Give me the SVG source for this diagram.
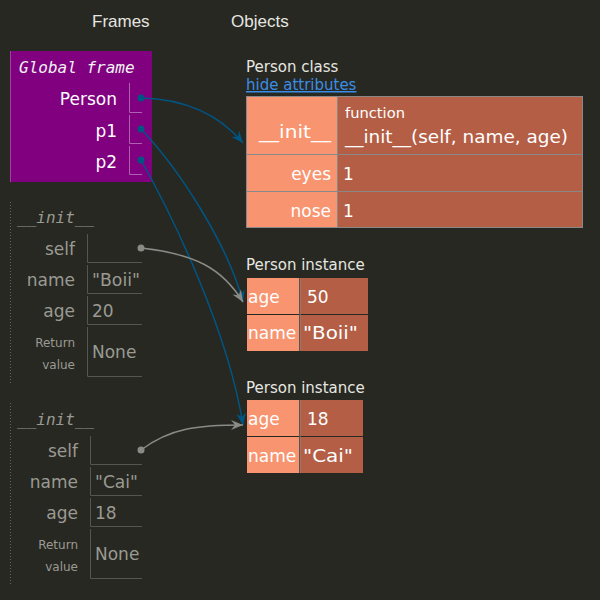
<svg xmlns="http://www.w3.org/2000/svg" width="600" height="600" viewBox="0 0 600 600">
<style>
.hdr{font-family:"Liberation Sans",Arial,sans-serif;font-size:17px;fill:#e6e6e0}
.sans{font-family:"DejaVu Sans",Verdana,sans-serif}
.ftitle{font-family:"DejaVu Sans Mono",monospace;font-style:italic;font-size:16px}
.lbl{font-family:"DejaVu Sans",Verdana,sans-serif;font-size:17px;text-anchor:end}
.val{font-family:"DejaVu Sans",Verdana,sans-serif;font-size:17px}
.small{font-family:"DejaVu Sans",Verdana,sans-serif;font-size:12px;text-anchor:end}
.otitle{font-family:"DejaVu Sans",Verdana,sans-serif;font-size:15px;fill:#e6e6e0}
.w{fill:#ffffff}
.g{fill:#9a9a92}
.gline{stroke:#55554f;stroke-width:1;fill:none}
.pline{stroke:#b060b0;stroke-width:1;fill:none}
.key{fill:#f8946f}
.vcell{fill:#b35e45}
.blue{stroke:#005583;stroke-width:1.5;fill:none}
.grey{stroke:#8a8a86;stroke-width:1.5;fill:none}
</style>
<defs>
<marker id="ab" markerUnits="userSpaceOnUse" markerWidth="13" markerHeight="11" refX="12" refY="5" orient="auto" viewBox="0 0 13 11">
<path d="M0,0 L12,5 L0,10 L4,5 Z" fill="#005583"/>
</marker>
<marker id="ag" markerUnits="userSpaceOnUse" markerWidth="13" markerHeight="11" refX="12" refY="5" orient="auto" viewBox="0 0 13 11">
<path d="M0,0 L12,5 L0,10 L4,5 Z" fill="#8a8a86"/>
</marker>
</defs>
<rect width="600" height="600" fill="#272822"/>
<text class="hdr" x="92" y="27">Frames</text>
<text class="hdr" x="231" y="27">Objects</text>

<g id="global-frame">
<rect x="10" y="51" width="142" height="131" fill="#800080"/>
<line x1="10.5" y1="51" x2="10.5" y2="182" stroke="#a040a0" stroke-width="1"/>
<text class="ftitle" x="19" y="73" fill="#f2f2f2">Global frame</text>
<text class="lbl w" x="117" y="105">Person</text>
<path class="pline" d="M129.5,83 V112.5 H142"/>
<circle cx="141" cy="98" r="3.5" fill="#005583"/>
<text class="lbl w" x="117" y="137">p1</text>
<path class="pline" d="M129.5,115 V143.5 H142"/>
<circle cx="141" cy="129" r="3.5" fill="#005583"/>
<text class="lbl w" x="117" y="168">p2</text>
<path class="pline" d="M129.5,146 V174.5 H142"/>
<circle cx="141" cy="160" r="3.5" fill="#005583"/>
</g>

<g id="init-frame-1">
<line x1="10.5" y1="202" x2="10.5" y2="383" stroke="#66665f" stroke-width="1" stroke-dasharray="1,2"/>
<text class="ftitle g" x="17" y="223">__init__</text>
<text class="lbl g" x="75" y="255">self</text>
<path class="gline" d="M87.5,234 V262.5 H142"/>
<circle cx="141" cy="248" r="3.5" fill="#8a8a86"/>
<text class="lbl g" x="75" y="286">name</text>
<path class="gline" d="M87.5,265 V293.5 H142"/>
<text class="val g" x="92" y="286" textLength="48" lengthAdjust="spacingAndGlyphs">"Boii"</text>
<text class="lbl g" x="75" y="317">age</text>
<path class="gline" d="M87.5,296 V324.5 H142"/>
<text class="val g" x="92" y="317">20</text>
<text class="small g" x="75" y="347">Return</text>
<text class="small g" x="75" y="369">value</text>
<path class="gline" d="M87.5,327 V376.5 H142"/>
<text class="val g" x="92" y="358">None</text>
</g>

<g id="init-frame-2">
<line x1="10.5" y1="403" x2="10.5" y2="585" stroke="#66665f" stroke-width="1" stroke-dasharray="1,2"/>
<text class="ftitle g" x="17" y="425">__init__</text>
<text class="lbl g" x="78" y="457">self</text>
<path class="gline" d="M90.5,436 V464.5 H142"/>
<circle cx="141" cy="450" r="3.5" fill="#8a8a86"/>
<text class="lbl g" x="78" y="488">name</text>
<path class="gline" d="M90.5,467 V495.5 H142"/>
<text class="val g" x="95" y="488" textLength="43" lengthAdjust="spacingAndGlyphs">"Cai"</text>
<text class="lbl g" x="78" y="519">age</text>
<path class="gline" d="M90.5,498 V526.5 H142"/>
<text class="val g" x="95" y="519">18</text>
<text class="small g" x="78" y="549">Return</text>
<text class="small g" x="78" y="571">value</text>
<path class="gline" d="M90.5,529 V578.5 H142"/>
<text class="val g" x="95" y="560">None</text>
</g>

<g id="person-class">
<text class="otitle" x="246" y="72">Person class</text>
<text class="otitle" x="246" y="90" style="fill:#3a8ee6" text-decoration="underline">hide attributes</text>
<rect x="246.5" y="96.5" width="336" height="131" fill="#b35e45" stroke="#888888" stroke-width="1"/>
<rect x="247" y="97" width="90" height="130" class="key"/>
<line x1="337.5" y1="97" x2="337.5" y2="227" stroke="#888888"/>
<line x1="247" y1="154.5" x2="582" y2="154.5" stroke="#888888"/>
<line x1="247" y1="191.5" x2="582" y2="191.5" stroke="#888888"/>
<text class="val w" x="259" y="138" textLength="72" lengthAdjust="spacingAndGlyphs">__init__</text>
<text class="sans w" x="345" y="118" font-size="14" textLength="60" lengthAdjust="spacingAndGlyphs">function</text>
<text class="val w" x="345" y="143" textLength="223" lengthAdjust="spacingAndGlyphs">__init__(self, name, age)</text>
<text class="lbl w" x="331" y="180">eyes</text>
<text class="val w" x="343" y="180">1</text>
<text class="lbl w" x="331" y="217">nose</text>
<text class="val w" x="343" y="217">1</text>
</g>

<g id="person-instance-1">
<text class="otitle" x="246" y="270">Person instance</text>
<rect x="247" y="278" width="52" height="36" class="key"/>
<rect x="300" y="278" width="68" height="36" class="vcell"/>
<rect x="247" y="315" width="52" height="36" class="key"/>
<rect x="300" y="315" width="68" height="36" class="vcell"/>
<line x1="300" y1="278" x2="300" y2="351" stroke="#888888"/>
<text class="val w" x="248" y="303">age</text>
<text class="val w" x="307" y="303">50</text>
<text class="val w" x="248" y="339">name</text>
<text class="val w" x="303" y="339" textLength="55" lengthAdjust="spacingAndGlyphs">"Boii"</text>
</g>

<g id="person-instance-2">
<text class="otitle" x="246" y="393">Person instance</text>
<rect x="247" y="400" width="52" height="36" class="key"/>
<rect x="300" y="400" width="63" height="36" class="vcell"/>
<rect x="247" y="437" width="52" height="36" class="key"/>
<rect x="300" y="437" width="63" height="36" class="vcell"/>
<line x1="300" y1="400" x2="300" y2="473" stroke="#888888"/>
<text class="val w" x="248" y="425">age</text>
<text class="val w" x="307" y="425">18</text>
<text class="val w" x="248" y="462">name</text>
<text class="val w" x="303" y="462" textLength="50" lengthAdjust="spacingAndGlyphs">"Cai"</text>
</g>

<g id="connectors">
<path class="blue" d="M141,98 C185,99 218,113 243,143" marker-end="url(#ab)"/>
<path class="blue" d="M141,129 C180,170 228,245 243,302" marker-end="url(#ab)"/>
<path class="blue" d="M141,160 C172,215 228,330 243,425" marker-end="url(#ab)"/>
<path class="grey" d="M141,248 C195,254 222,268 243,302" marker-end="url(#ag)"/>
<path class="grey" d="M141,450 C170,428 198,425 243,425" marker-end="url(#ag)"/>
</g>
</svg>
